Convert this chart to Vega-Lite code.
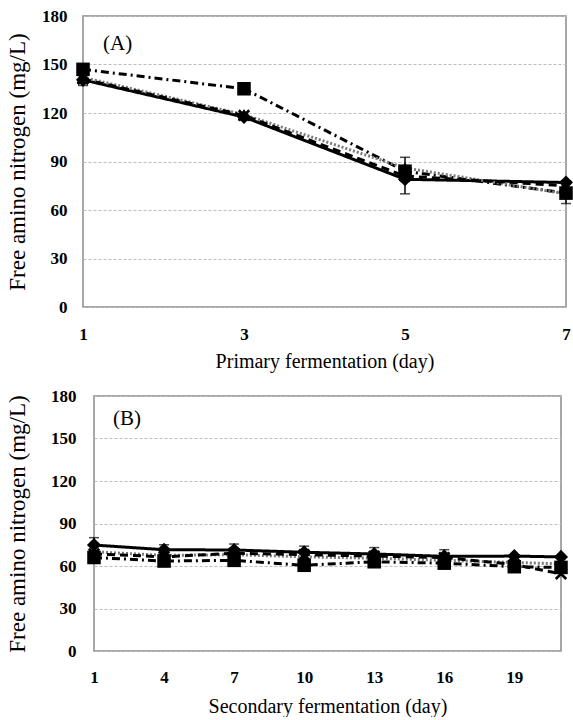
{
  "$schema": "https://vega.github.io/schema/vega-lite/v6.json",
  "padding": {"left": 4, "top": 6, "right": 0, "bottom": 0},
  "background": "white",
  "config": {
    "font": "Liberation Serif",
    "view": {"stroke": "#8a8a8a", "strokeWidth": 1.5},
    "legend": {"disable": true},
    "axis": {
      "labelFont": "Liberation Serif",
      "labelFontWeight": "bold",
      "labelFontSize": 17,
      "labelColor": "black",
      "titleFont": "Liberation Serif",
      "titleFontWeight": "normal",
      "titleColor": "black",
      "ticks": false,
      "domain": false,
      "grid": false
    },
    "axisY": {"grid": true, "gridColor": "#bdbdbd", "gridDash": [3, 2], "gridWidth": 1.2, "titleFontSize": 23, "labelPadding": 16, "titlePadding": 12},
    "axisX": {"titleFontSize": 20, "labelPadding": 19, "titlePadding": 9, "labelFlush": false}
  },
  "datasets": {
    "A": [
      {"series": "Series 1", "day": 1, "value": 140.5},
      {"series": "Series 1", "day": 3, "value": 117.5},
      {"series": "Series 1", "day": 5, "value": 79},
      {"series": "Series 1", "day": 7, "value": 77},
      {"series": "Series 2", "day": 1, "value": 147},
      {"series": "Series 2", "day": 3, "value": 135},
      {"series": "Series 2", "day": 5, "value": 84},
      {"series": "Series 2", "day": 7, "value": 70.5},
      {"series": "Series 3", "day": 1, "value": 142},
      {"series": "Series 3", "day": 3, "value": 119},
      {"series": "Series 3", "day": 5, "value": 86},
      {"series": "Series 3", "day": 7, "value": 70},
      {"series": "Series 4", "day": 1, "value": 141},
      {"series": "Series 4", "day": 3, "value": 118.5},
      {"series": "Series 4", "day": 5, "value": 81},
      {"series": "Series 4", "day": 7, "value": 75}
    ],
    "B": [
      {"series": "Series 1", "day": 1, "value": 74.8},
      {"series": "Series 1", "day": 4, "value": 71.5},
      {"series": "Series 1", "day": 7, "value": 71.3},
      {"series": "Series 1", "day": 10, "value": 69.7},
      {"series": "Series 1", "day": 13, "value": 68.5},
      {"series": "Series 1", "day": 16, "value": 66.8},
      {"series": "Series 1", "day": 19, "value": 67},
      {"series": "Series 1", "day": 21, "value": 66.4},
      {"series": "Series 2", "day": 1, "value": 66},
      {"series": "Series 2", "day": 4, "value": 63.5},
      {"series": "Series 2", "day": 7, "value": 64},
      {"series": "Series 2", "day": 10, "value": 60.5},
      {"series": "Series 2", "day": 13, "value": 63},
      {"series": "Series 2", "day": 16, "value": 62},
      {"series": "Series 2", "day": 19, "value": 59.5},
      {"series": "Series 2", "day": 21, "value": 59},
      {"series": "Series 3", "day": 1, "value": 70},
      {"series": "Series 3", "day": 4, "value": 67.5},
      {"series": "Series 3", "day": 7, "value": 68},
      {"series": "Series 3", "day": 10, "value": 66.5},
      {"series": "Series 3", "day": 13, "value": 65.5},
      {"series": "Series 3", "day": 16, "value": 64},
      {"series": "Series 3", "day": 19, "value": 62.5},
      {"series": "Series 3", "day": 21, "value": 61.5},
      {"series": "Series 4", "day": 1, "value": 68.5},
      {"series": "Series 4", "day": 4, "value": 66.5},
      {"series": "Series 4", "day": 7, "value": 69},
      {"series": "Series 4", "day": 10, "value": 68},
      {"series": "Series 4", "day": 13, "value": 67},
      {"series": "Series 4", "day": 16, "value": 66},
      {"series": "Series 4", "day": 19, "value": 61},
      {"series": "Series 4", "day": 21, "value": 54.5}
    ],
    "errA": [
      {"series": "Series 1", "day": 1, "lo": 137, "hi": 144},
      {"series": "Series 2", "day": 3, "lo": 133, "hi": 137.5},
      {"series": "Series 3", "day": 5, "lo": 70, "hi": 92.6},
      {"series": "Series 3", "day": 7, "lo": 64, "hi": 76}
    ],
    "errB": [
      {"series": "Series 1", "day": 1, "lo": 70, "hi": 80},
      {"series": "Series 1", "day": 4, "lo": 68, "hi": 75},
      {"series": "Series 1", "day": 7, "lo": 67, "hi": 75.5},
      {"series": "Series 1", "day": 10, "lo": 65, "hi": 74},
      {"series": "Series 1", "day": 13, "lo": 64, "hi": 73},
      {"series": "Series 4", "day": 16, "lo": 61, "hi": 71.5}
    ],
    "labA": [{"day": 1.43, "value": 162.7, "label": "(A)"}],
    "labB": [{"day": 2.41, "value": 163.8, "label": "(B)"}],
    "none": []
  },
  "spacing": 14,
  "vconcat": [
    {
      "spacing": 0,
      "hconcat": [
        {
          "width": 1,
          "height": 1,
          "data": {"name": "none"},
          "view": {"stroke": null},
          "mark": {"type": "point"},
          "encoding": {}
        },
        {
          "width": 483,
          "height": 291,
          "data": {"name": "A"},
          "layer": [
            {
              "mark": {"type": "line"},
              "encoding": {
                "x": {"field": "day", "type": "quantitative", "scale": {"domain": [1, 7], "nice": false, "zero": false}, "axis": {"values": [1, 3, 5, 7], "format": "d"}, "title": "Primary fermentation (day)"},
                "y": {"field": "value", "type": "quantitative", "scale": {"domain": [0, 180], "nice": false}, "axis": {"values": [0, 30, 60, 90, 120, 150, 180]}, "title": "Free amino nitrogen (mg/L)"},
                "color": {"field": "series", "type": "nominal", "scale": {"domain": ["Series 1", "Series 2", "Series 3", "Series 4"], "range": ["black", "black", "#7a7a7a", "black"]}},
                "strokeDash": {"field": "series", "type": "nominal", "scale": {"domain": ["Series 1", "Series 2", "Series 3", "Series 4"], "range": [[1, 0], [8, 4, 2, 4], [2, 2], [8, 5]]}},
                "strokeWidth": {"field": "series", "type": "nominal", "scale": {"domain": ["Series 1", "Series 2", "Series 3", "Series 4"], "range": [3, 3, 2, 2.5]}}
              }
            },
            {
              "data": {"name": "errA"},
              "mark": {"type": "errorbar", "ticks": true, "size": 10, "thickness": 1.5, "color": "black"},
              "encoding": {
                "x": {"field": "day", "type": "quantitative", "title": "Primary fermentation (day)"},
                "y": {"field": "lo", "type": "quantitative", "title": "Free amino nitrogen (mg/L)"},
                "y2": {"field": "hi"}
              }
            },
            {
              "mark": {"type": "point", "filled": true, "opacity": 1, "color": "black"},
              "encoding": {
                "x": {"field": "day", "type": "quantitative", "title": "Primary fermentation (day)"},
                "y": {"field": "value", "type": "quantitative", "title": "Free amino nitrogen (mg/L)"},
                "shape": {"field": "series", "type": "nominal", "scale": {"domain": ["Series 1", "Series 2", "Series 3", "Series 4"], "range": ["diamond", "square", "triangle-up", "M-1,-0.7L-0.7,-1L0,-0.3L0.7,-1L1,-0.7L0.3,0L1,0.7L0.7,1L0,0.3L-0.7,1L-1,0.7L-0.3,0Z"]}},
                "size": {"field": "series", "type": "nominal", "scale": {"domain": ["Series 1", "Series 2", "Series 3", "Series 4"], "range": [200, 150, 160, 130]}}
              }
            },
            {
              "data": {"name": "labA"},
              "mark": {"type": "text", "font": "Liberation Serif", "fontSize": 21, "color": "black"},
              "encoding": {
                "x": {"field": "day", "type": "quantitative", "title": "Primary fermentation (day)"},
                "y": {"field": "value", "type": "quantitative", "title": "Free amino nitrogen (mg/L)"},
                "text": {"field": "label"}
              }
            }
          ]
        }
      ]
    },
    {
      "spacing": 0,
      "hconcat": [
        {
          "width": 1,
          "height": 1,
          "data": {"name": "none"},
          "view": {"stroke": null},
          "mark": {"type": "point"},
          "encoding": {}
        },
        {
          "width": 467,
          "height": 255,
          "data": {"name": "B"},
          "layer": [
            {
              "mark": {"type": "line"},
              "encoding": {
                "x": {"field": "day", "type": "quantitative", "scale": {"domain": [1, 21], "nice": false, "zero": false}, "axis": {"values": [1, 4, 7, 10, 13, 16, 19], "format": "d", "labelPadding": 18, "titlePadding": 11}, "title": "Secondary fermentation (day)"},
                "y": {"field": "value", "type": "quantitative", "scale": {"domain": [0, 180], "nice": false}, "axis": {"values": [0, 30, 60, 90, 120, 150, 180], "titlePadding": 21, "labelPadding": 18}, "title": "Free amino nitrogen (mg/L)"},
                "color": {"field": "series", "type": "nominal", "scale": {"domain": ["Series 1", "Series 2", "Series 3", "Series 4"], "range": ["black", "black", "#7a7a7a", "black"]}},
                "strokeDash": {"field": "series", "type": "nominal", "scale": {"domain": ["Series 1", "Series 2", "Series 3", "Series 4"], "range": [[1, 0], [8, 4, 2, 4], [2, 2], [8, 5]]}},
                "strokeWidth": {"field": "series", "type": "nominal", "scale": {"domain": ["Series 1", "Series 2", "Series 3", "Series 4"], "range": [3, 3, 2, 2.5]}}
              }
            },
            {
              "data": {"name": "errB"},
              "mark": {"type": "errorbar", "ticks": true, "size": 10, "thickness": 1.5, "color": "black"},
              "encoding": {
                "x": {"field": "day", "type": "quantitative", "title": "Secondary fermentation (day)"},
                "y": {"field": "lo", "type": "quantitative", "title": "Free amino nitrogen (mg/L)"},
                "y2": {"field": "hi"}
              }
            },
            {
              "mark": {"type": "point", "filled": true, "opacity": 1, "color": "black"},
              "encoding": {
                "x": {"field": "day", "type": "quantitative", "title": "Secondary fermentation (day)"},
                "y": {"field": "value", "type": "quantitative", "title": "Free amino nitrogen (mg/L)"},
                "shape": {"field": "series", "type": "nominal", "scale": {"domain": ["Series 1", "Series 2", "Series 3", "Series 4"], "range": ["diamond", "square", "triangle-up", "M-1,-0.7L-0.7,-1L0,-0.3L0.7,-1L1,-0.7L0.3,0L1,0.7L0.7,1L0,0.3L-0.7,1L-1,0.7L-0.3,0Z"]}},
                "size": {"field": "series", "type": "nominal", "scale": {"domain": ["Series 1", "Series 2", "Series 3", "Series 4"], "range": [200, 150, 160, 130]}}
              }
            },
            {
              "data": {"name": "labB"},
              "mark": {"type": "text", "font": "Liberation Serif", "fontSize": 21, "color": "black"},
              "encoding": {
                "x": {"field": "day", "type": "quantitative", "title": "Secondary fermentation (day)"},
                "y": {"field": "value", "type": "quantitative", "title": "Free amino nitrogen (mg/L)"},
                "text": {"field": "label"}
              }
            }
          ]
        }
      ]
    }
  ]
}
